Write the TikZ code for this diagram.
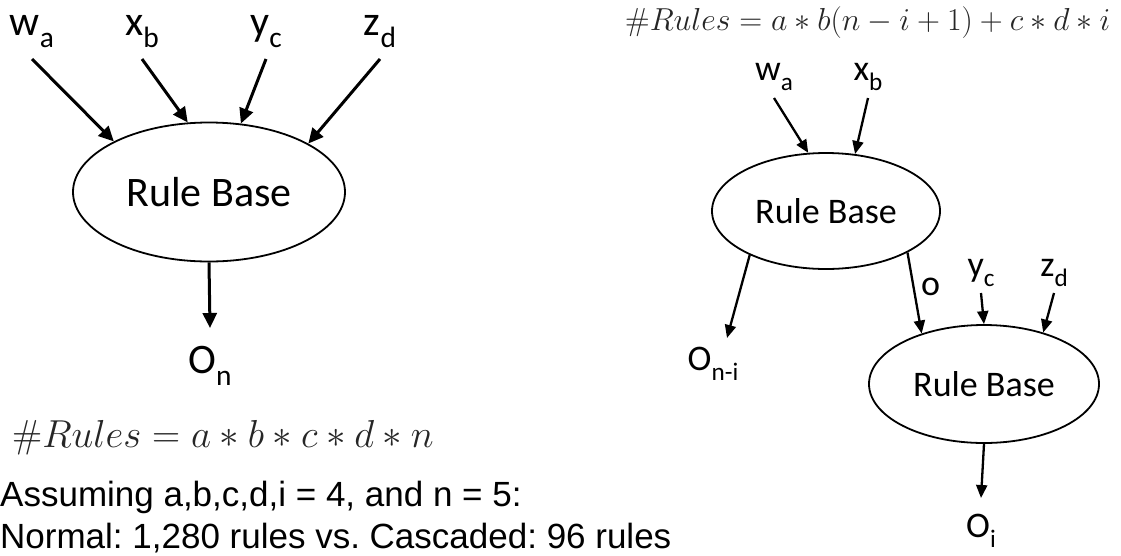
\documentclass[tikz,border=0pt]{standalone}
\usepackage{fix-cm}
\usepackage[no-math]{fontspec}
\setmainfont{Carlito}
\newfontfamily\arialfont{Liberation Sans}
\usetikzlibrary{positioning,arrows.meta,shapes.geometric}
\frenchspacing

% lowered, shrunk subscript in text
\newcommand{\lowsub}[2]{#1\raisebox{-0.3em}{\scalebox{0.7}{#2}}}
\newcommand{\bigtxt}{\fontsize{42}{50}\selectfont}
\newcommand{\midtxt}{\fontsize{36}{42}\selectfont}

\tikzset{
  rulebase/.style={draw, ellipse, line width=1.8pt, inner sep=0pt},
  feed/.style={-{Triangle[length=15pt,width=14pt]}, line width=3pt},
  feedsm/.style={-{Triangle[length=13pt,width=11pt]}, line width=2.3pt},
  var/.style={anchor=base, inner sep=0pt},
  formula/.style={anchor=west, inner sep=0pt, text=black!85},
}

\begin{document}
\begin{tikzpicture}[x=1pt,y=-1pt]
\useasboundingbox (0,0) rectangle (1121,555);

%%% normal rule base
\node[rulebase, minimum width=272pt, minimum height=139pt, font=\bigtxt] (rbl) at (209,192) {Rule Base};

\node[var, font=\bigtxt] (wl) at (32,35) {\lowsub{w}{a}};
\node[var, font=\bigtxt] (xl) at (142,35) {\lowsub{x}{b}};
\node[var, font=\bigtxt] (yl) at (266,35) {\lowsub{y}{c}};
\node[var, font=\bigtxt] (zl) at (380,35) {\lowsub{z}{d}};
\node[var, font=\bigtxt] (onl) at (210,373) {\lowsub{O}{n}};

\draw[feed] ([yshift=-24pt]wl.base) -- (rbl.152);
\draw[feed] ([yshift=-24pt]xl.base) -- (rbl.107);
\draw[feed] ([yshift=-24pt]yl.base) -- (rbl.65);
\draw[feed] ([yshift=-24pt]zl.base) -- (rbl.26);
\draw[feed] (rbl.270) -- ([yshift=45pt]onl.base);

\node[formula, font=\fontsize{39}{45}\selectfont] (fnormal) at (12,438) {$\#Rules = a*b*c*d*n$};

%%% cascaded rule bases
\node[rulebase, minimum width=228pt, minimum height=116pt, font=\midtxt] (rbt) at (826,211) {Rule Base};
\node[rulebase, minimum width=230pt, minimum height=118pt, font=\midtxt] (rbb) at (984,384) {Rule Base};

\node[var, font=\midtxt] (wr) at (774,80) {\lowsub{w}{a}};
\node[var, font=\midtxt] (xr) at (868,80) {\lowsub{x}{b}};
\node[var, font=\midtxt] (yr) at (981,276) {\lowsub{y}{c}};
\node[var, font=\midtxt] (zr) at (1054,276) {\lowsub{z}{d}};
\node[var, font=\midtxt] (onmi) at (713,370) {\lowsub{O}{n-i}};
\node[var, font=\midtxt] (oi) at (981,537) {\lowsub{O}{i}};

\draw[feedsm] ([yshift=-18pt]wr.base) -- (rbt.107);
\draw[feedsm] ([yshift=-18pt]xr.base) -- (rbt.63);
\draw[feedsm] (rbt.210) -- ([shift={(14pt,32pt)}]onmi.base);
\draw[feedsm] (rbt.333) -- (rbb.141) node[midway, xshift=16pt, yshift=6pt, font=\midtxt] {o};
\draw[feedsm] ([yshift=-17pt]yr.base) -- (rbb.90);
\draw[feedsm] ([yshift=-17pt]zr.base) -- (rbb.41);
\draw[feedsm] (rbb.270) -- ([yshift=39pt]oi.base);

\node[formula, font=\fontsize{31.8}{37}\selectfont] (fcasc) at (625,23) {$\#Rules = a*b(n-i+1)+c*d*i$};

%% numbers
\node[anchor=west, inner sep=0pt, font=\arialfont\fontsize{35}{40}\selectfont] (assume) at (0,497) {Assuming a,b,c,d,i = 4, and n = 5:};
\node[anchor=west, inner sep=0pt, font=\arialfont\fontsize{35}{40}\selectfont] (compare) at (0,538) {Normal: 1,280 rules vs. Cascaded: 96 rules};

\end{tikzpicture}
\end{document}
